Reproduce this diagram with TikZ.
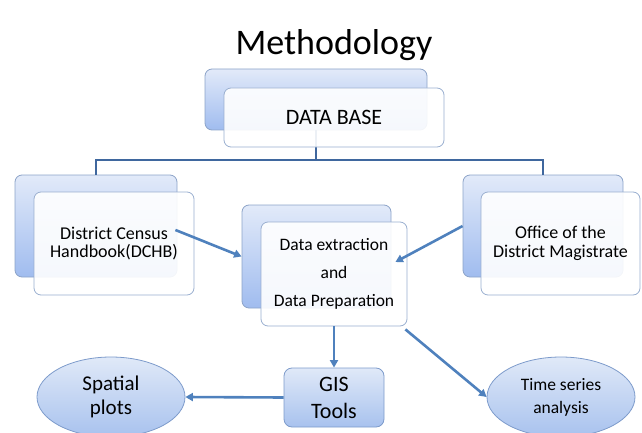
\documentclass[tikz,border=0pt]{standalone}
\usepackage{fontspec}
\setmainfont{Carlito}
\usepackage{tikz}
\usetikzlibrary{calc,shapes.geometric,arrows.meta}
\tikzset{>={Triangle[length=7.5pt,width=8pt]}}
\definecolor{treeblue}{HTML}{3F679E}
\definecolor{flowblue}{HTML}{4F81BD}
\definecolor{boxedge}{HTML}{8CA3C8}
\definecolor{frontedge}{HTML}{9AAFD0}
\definecolor{backtop}{HTML}{E2EAF9}
\definecolor{backbot}{HTML}{A0BCEF}
\definecolor{ovaledge}{HTML}{7D9BCB}
\definecolor{ovaltop}{HTML}{E0E9F8}
\definecolor{ovalbot}{HTML}{A8C2EE}

\begin{document}
\begin{tikzpicture}[x=1pt,y=-1pt]
      \tikzstyle{backbox}=[draw=boxedge,line width=0.8pt,rounded corners=7pt,top color=backtop,bottom color=backbot,inner sep=0pt]
      \tikzstyle{frontbox}=[draw=frontedge,line width=0.8pt,rounded corners=7pt,fill=white,fill opacity=0.9,text opacity=1,align=center,inner sep=0pt]
      \tikzstyle{tool}=[draw=ovaledge,line width=0.8pt,rounded corners=8pt,top color=ovaltop,bottom color=ovalbot,align=center,inner sep=0pt]
      \tikzstyle{result}=[ellipse,draw=ovaledge,line width=0.8pt,top color=ovaltop,bottom color=ovalbot,align=center,inner sep=0pt]
      \tikzstyle{bus}=[treeblue,line width=2pt]
      \tikzstyle{flow}=[->,flowblue,line width=2.6pt]
      \useasboundingbox (0,0) rectangle (642,433);
      %%% title
      \node (title) at (334,45) {\fontsize{36}{42}\selectfont Methodology};
      %%% back boxes
      \node (dbback) at (316,99.5) [backbox,minimum width=222pt,minimum height=61pt] {};
      \node (dchbback) at (96,226) [backbox,minimum width=162pt,minimum height=102pt] {};
      \node (dextback) at (316.5,256.5) [backbox,minimum width=149pt,minimum height=103pt] {};
      \node (officeback) at (543,226) [backbox,minimum width=160pt,minimum height=102pt] {};
      %%% tree from the data base
      \coordinate (busmid) at (316,160);
      \draw[bus] (dbback.south) -- (busmid);
      \draw[bus] (dchbback.north) |- (busmid) -| (officeback.north);
      %%% front boxes
      \node (dbfront) at (334,117.5) [frontbox,minimum width=220pt,minimum height=59pt,font=\fontsize{22}{26}\selectfont] {DATA BASE};
      \node (dchbfront) at (114,243.5) [frontbox,minimum width=160pt,minimum height=103pt,font=\fontsize{18}{18.5}\selectfont] {District Census\\Handbook(DCHB)};
      \node (dextfront) at (334,274) [frontbox,minimum width=146pt,minimum height=104pt,font=\fontsize{17.5}{28}\selectfont] {Data extraction\\and\\Data Preparation};
      \node (officefront) at (560.5,243.5) [frontbox,minimum width=159pt,minimum height=103pt,font=\fontsize{18}{18.5}\selectfont] {Office of the\\District Magistrate};
      %%% outputs
      \node (gis) at (334,397.5) [tool,minimum width=100pt,minimum height=59pt,font=\fontsize{22}{27}\selectfont] {GIS\\Tools};
      \node (spatial) at (111,397) [result,minimum width=148pt,minimum height=80pt,font=\fontsize{21}{24}\selectfont] {Spatial\\plots};
      \node (timeseries) at (561,397) [result,minimum width=148pt,minimum height=80pt,font=\fontsize{17.5}{23}\selectfont] {Time series\\analysis};
      %%% arrows
      \draw[flow] ($(dchbfront.east)+(-19,-13.5)$) -- (dextback.west);
      \draw[flow] (officeback.west) -- ($(dextfront.east)+(-12,-12)$);
      \draw[flow] (dextfront.south) -- (gis.north);
      \draw[flow] (gis.west) -- (spatial.east);
      \draw[flow] ($(dextfront.south east)+(-2,3)$) -- (timeseries.west);
\end{tikzpicture}
\end{document}
